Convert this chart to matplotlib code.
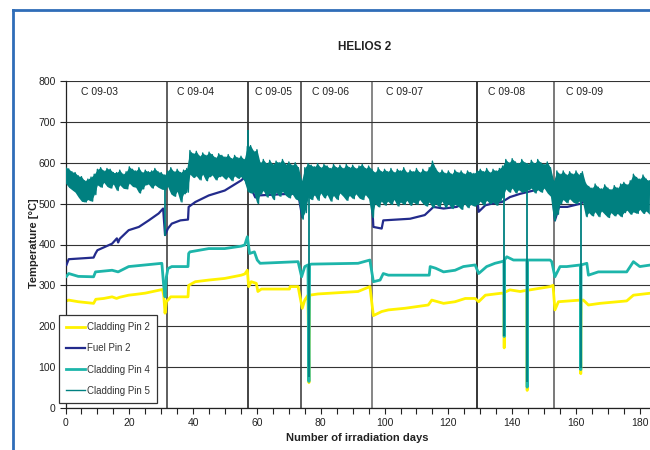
import matplotlib
matplotlib.use("Agg")
import matplotlib.pyplot as plt
import numpy as np
from matplotlib.lines import Line2D
from matplotlib.ticker import MultipleLocator

plt.rcParams['font.family'] = ['Liberation Sans', 'DejaVu Sans']

# campaign boundaries (days) and labels
campaigns = ["C 09-03", "C 09-04", "C 09-05", "C 09-06", "C 09-07", "C 09-08", "C 09-09"]
campaign_label_x = [5.0, 34.8, 59.4, 77.2, 100.3, 132.3, 156.8]
boundaries = [31.8, 57.1, 73.7, 96.0, 129.0, 153.0]
boundary_colors = ["#333333", "#111111", "#333333", "#666666", "#000000", "#555555"]

# Cladding Pin 2 (yellow)
clad2_days = [0.3, 1, 4, 8.8, 9.5, 12, 14.6, 16, 17, 19.8, 22, 25, 28, 30.4, 30.8, 31.2, 31.6, 32.1, 33, 38.4,
              38.6, 40.7, 44.9, 49.9, 55.1, 56.2, 57.0, 57.4, 58.2, 59.8, 60.3, 61.4, 70.2, 70.4, 72.9,
              74.2, 75.0, 76.0, 76.3, 76.5, 79.1, 91.7, 95.4,
              96.5, 99.1, 101.2, 106.4, 113.7, 114.8, 118.5, 122.1, 125.3, 128.4,
              129.5, 131.6, 136.8, 137.4, 137.5, 137.6, 139.3, 142.5, 144.6, 144.7, 144.8, 151.9, 152.8,
              153.4, 154.5, 161.4, 161.5, 161.6, 162.3, 163.9, 167.5, 175.9, 178.0, 183.5]
clad2_vals = [262, 264, 260, 256, 266, 268, 272, 268, 271, 276, 278, 281, 286, 290, 275, 232, 260, 264, 272, 272,
              300, 309, 313, 317, 325, 328, 337, 297, 309, 305, 285, 291, 291, 297, 297,
              244, 264, 276, 62, 276, 279, 285, 297,
              226, 236, 240, 244, 252, 264, 256, 260, 268, 268,
              260, 276, 281, 281, 147, 283, 289, 285, 288, 43, 288, 297, 300,
              240, 260, 264, 84, 264, 264, 252, 256, 262, 276, 281]

# Fuel Pin 2 (navy)
fuel_days = [0.3, 1, 8.8, 9.4, 10, 14.6, 16.1, 16.5, 17, 19.8, 23.0, 26.1, 29.2, 30.6, 31.2,
             32.1, 33.3, 36, 38.4, 38.6, 40.7, 44.9, 49.9, 55.1, 56.2, 57.0,
             58.2, 59.5, 60.3, 72.9, 74.2, 75.9, 79.1, 82.0, 90, 95.8,
             96.5, 99.1, 99.6, 108, 112.6, 114.8, 115.3, 118.5, 122.6, 124.7, 126.8, 128.9,
             129.5, 131.6, 133.7, 136.8, 139.3, 142.5, 146.7, 150.8, 152.4,
             153.4, 154.7, 157.3, 161.5, 163.0, 170, 178, 183.5]
fuel_vals = [350, 364, 368, 378, 386, 402, 415, 405, 414, 435, 443, 459, 476, 488, 423,
             439, 451, 459, 461, 492, 504, 520, 532, 557, 565, 545,
             537, 515, 520, 525, 467, 520, 524, 537, 540, 542,
             443, 439, 459, 463, 472, 488, 492, 488, 492, 500, 512, 524,
             480, 496, 500, 504, 516, 524, 532, 545, 549,
             459, 492, 492, 500, 508, 505, 515, 538]

# Cladding Pin 4 (light teal)
clad4_days = [0.3, 1.0, 4, 8.8, 9.4, 14.6, 16.5, 19.8, 25.0, 30.2, 30.8, 31.2, 31.6, 32.1, 33.3, 38.4,
              38.6, 39, 44.9, 49.9, 55.1, 56.2, 57.0, 57.7, 59.2, 60.1, 61, 72.9,
              74.0, 75.0, 76.0, 76.3, 76.5, 77, 91.7, 95.4,
              96.5, 98.6, 99.6, 101.2, 114.0, 114.3, 116, 118.5, 122.1, 124.7, 128.4,
              129.5, 132.0, 134.6, 136.7, 137.4, 137.5, 137.6, 138.3, 140.4, 144.6, 144.7, 144.8, 151.9, 152.4,
              153.4, 155.0, 157.1, 161.4, 161.5, 161.6, 163.4, 163.9, 167, 175.9, 177, 178.0, 180, 183.5]
clad4_vals = [322, 329, 322, 321, 333, 337, 333, 346, 350, 354, 297, 272, 320, 341, 346, 346,
              378, 382, 390, 390, 396, 399, 419, 378, 382, 362, 354, 358,
              321, 346, 350, 65, 350, 352, 354, 362,
              309, 313, 329, 325, 325, 346, 342, 333, 337, 346, 350,
              329, 346, 354, 358, 360, 175, 362, 370, 362, 362, 51, 362, 362, 358,
              321, 346, 346, 350, 94, 350, 354, 325, 333, 333, 346, 358, 346, 350]

# Cladding Pin 5 (teal): daily upper / lower readings of the noisy band
clad5_days = list(range(0, 184))
clad5_hi = [590, 585, 578, 576, 568, 566, 556, 560, 565, 572, 584, 588, 580, 586, 584, 576, 576, 582, 572, 578,
            590, 584, 580, 588, 576, 582, 578, 580, 586, 578, 576, 570,
            580, 588, 578, 584, 576, 582, 586, 630, 622, 628, 616, 624, 618, 626, 620, 612, 622, 618,
            614, 620, 610, 618, 612, 616, 608, 640,
            642, 628, 632, 600, 608, 598, 606, 596, 604, 600, 608, 596, 602, 594, 600, 588,
            556, 588, 598, 594, 590, 598, 588, 596, 592, 586, 596, 588, 594, 586, 596, 588, 594, 586,
            592, 596, 586, 592,
            584, 576, 588, 578, 584, 578, 586, 576, 584, 580, 588, 576, 582, 578, 586, 576, 584, 578,
            588, 604, 586, 576, 582, 574, 580, 572, 582, 576, 580, 572, 580, 576, 574,
            580, 584, 578, 586, 576, 584, 580, 586, 592, 608, 600, 610, 602, 598, 608, 600, 596, 606,
            598, 608, 600, 596, 602, 588,
            556, 580, 572, 580, 570, 578, 572, 580, 570, 578, 550, 542, 538, 548, 540, 536, 546, 538,
            534, 544, 538, 548, 552, 546, 556, 572, 564, 560, 570, 560, 556]
clad5_lo = [550, 540, 534, 528, 516, 506, 504, 510, 506, 522, 546, 540, 552, 542, 538, 548, 532, 546, 538, 536,
            550, 542, 540, 526, 536, 546, 548, 538, 546, 540, 536, 534,
            542, 524, 518, 530, 504, 524, 528, 572, 564, 568, 558, 572, 556, 566, 570, 558, 566, 568,
            560, 566, 556, 568, 562, 566, 556, 530,
            526, 528, 500, 524, 532, 516, 526, 510, 528, 518, 530, 520, 514, 524, 512, 508,
            462, 478, 516, 510, 522, 508, 526, 514, 522, 506, 520, 510, 526, 518, 508, 520, 512, 524,
            514, 510, 522, 512,
            466, 500, 492, 506, 496, 506, 498, 510, 494, 504, 498, 508, 496, 504, 498, 510, 500, 494,
            504, 490, 500, 492, 506, 490, 500, 488, 498, 494, 486, 500, 490, 498, 494,
            498, 506, 496, 508, 500, 504, 496, 506, 516, 536, 528, 538, 526, 534, 528, 530, 534, 538,
            526, 534, 528, 538, 526, 518,
            458, 474, 500, 510, 502, 512, 504, 500, 506, 506, 468, 478, 470, 480, 468, 482, 474, 466,
            478, 470, 476, 468, 478, 484, 474, 480, 476, 486, 476, 482, 474]
# short drop-outs of the Cladding Pin 5 signal
clad5_spike_days = [31.2, 57.2, 76.3, 137.5, 144.7, 161.5]
clad5_spike_low = [420, 560, 75, 175, 63, 98]
clad5_spike_high = [560, 679, 590, 590, 600, 575]

fig = plt.figure(figsize=(6.5, 4.5), dpi=100)
ax = fig.add_axes([65.5 / 650, 42 / 450, 584.5 / 650, 327 / 450])

ax.set_xlim(0, 183.2)
ax.set_ylim(0, 800)

# grid and campaign separators
ax.yaxis.set_major_locator(MultipleLocator(100))
ax.grid(axis='y', color='#333333', lw=0.8, zorder=0)
for b, c in zip(boundaries, boundary_colors):
    ax.axvline(b, color=c, lw=1.1, zorder=1)
for lab, lx in zip(campaigns, campaign_label_x):
    ax.text(lx, 773, lab, fontsize=7.5, va='center', ha='left', color='#222222')

ax.plot(clad2_days, clad2_vals, color='#FFF200', lw=2.0, label='Cladding Pin 2', zorder=2)
ax.plot(fuel_days, fuel_vals, color='#232B8C', lw=1.6, label='Fuel Pin 2', zorder=3)
ax.plot(clad4_days, clad4_vals, color='#1DB5AA', lw=2.0, label='Cladding Pin 4', zorder=4)

# noisy band: filled between readings, edges drawn as alternating upper/lower line
teal = '#008080'
ax.fill_between(clad5_days, clad5_lo, clad5_hi, color=teal, lw=0, zorder=5)
d5 = np.array(clad5_days, dtype=float)
zx = np.column_stack([d5, d5 + 0.5]).ravel()
zy = np.column_stack([clad5_hi, clad5_lo]).ravel()
ax.plot(zx, zy, color=teal, lw=1.0, label='Cladding Pin 5', zorder=5)
ax.vlines(clad5_spike_days, clad5_spike_low, clad5_spike_high, color=teal, lw=1.3, zorder=5)

ax.xaxis.set_major_locator(MultipleLocator(20))
ax.xaxis.set_minor_locator(MultipleLocator(5))
ax.tick_params(axis='both', which='both', direction='out', length=4, width=0.8, labelsize=7.5,
               colors='#222222', pad=3)
for s in ['top', 'right']:
    ax.spines[s].set_visible(False)
for s in ['left', 'bottom']:
    ax.spines[s].set_color('#222222')
    ax.spines[s].set_linewidth(0.9)

leg = ax.legend(loc='lower left', bbox_to_anchor=(-0.011, 0.015), borderaxespad=0, fontsize=7,
                frameon=True, fancybox=False, edgecolor='#333333', framealpha=1,
                handlelength=1.9, labelspacing=1.15, borderpad=0.75, handletextpad=0.25)
leg.get_frame().set_linewidth(0.9)
for t in leg.get_texts():
    t.set_color('#333333')
leg.set_zorder(10)

fig.text(365 / 650, 1 - 47 / 450, 'HELIOS 2', ha='center', va='center', fontsize=8.5, fontweight='bold',
         color='#222222')
fig.text(34 / 650, 1 - 243 / 450, 'Temperature [°C]', rotation=90, ha='center', va='center', fontsize=8,
         fontweight='bold', color='#222222')
fig.text(357 / 650, 1 - 438 / 450, 'Number of irradiation days', ha='center', va='center', fontsize=8,
         fontweight='bold', color='#222222')

# blue frame around the chart (left and top edges visible)
fig.add_artist(Line2D([13 / 650, 13 / 650], [0, 1 - 10 / 450], transform=fig.transFigure,
                      color='#2F6DB8', lw=2.0))
fig.add_artist(Line2D([13 / 650, 1], [1 - 10 / 450, 1 - 10 / 450], transform=fig.transFigure,
                      color='#2F6DB8', lw=2.0))

fig.savefig('out.png', dpi=100)
